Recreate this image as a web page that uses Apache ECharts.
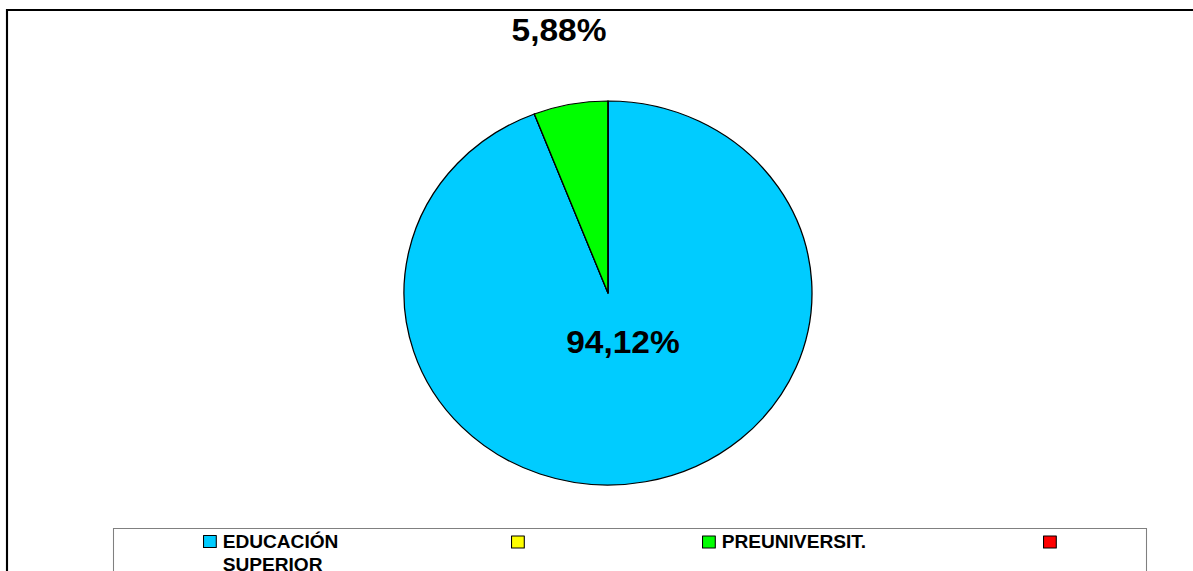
<!DOCTYPE html>
<html>
<head>
<meta charset="utf-8">
<script src="https://cdn.jsdelivr.net/npm/echarts@6/dist/echarts.min.js"></script>
<style>
html,body{margin:0;padding:0;background:#fff;overflow:hidden;}
#wrap{width:1193px;height:571px;overflow:hidden;}
#chart{width:1123px;height:571px;transform:scaleX(1.0625);transform-origin:0 0;}
</style>
</head>
<body>
<div id="wrap"><div id="chart"></div></div>
<script>
// Data
const categories = ['EDUCACIÓN SUPERIOR', ' ', 'PREUNIVERSIT.', '  '];
const values = [94.12, 0, 5.88, 0];
const colors = ['#00CCFF', '#FFFF00', '#00FF00', '#FF0000'];

// Excel-style chart is stretched horizontally (elliptical pie); draw in a narrower box and scale X
const SX = 1.0625;
const FONT = '"Liberation Sans", Arial, sans-serif';
const chart = echarts.init(document.getElementById('chart'), null, {renderer: 'svg'});

const legendLefts = [203 / SX, 511 / SX, 702 / SX, 1043 / SX];
const legends = categories.map((c, i) => ({
  data: [c],
  left: legendLefts[i],
  top: i === 0 ? 507 : 530.5,
  orient: 'horizontal',
  icon: 'rect',
  itemWidth: 12,
  itemHeight: 12,
  itemGap: 0,
  padding: 0,
  selectedMode: false,
  itemStyle: {borderColor: '#000', borderWidth: 1},
  formatter: name => i === 0 ? '\n' + name.replace(' ', '\n') : name,
  textStyle: {fontFamily: FONT, fontWeight: 'bold', fontSize: 18, color: '#000', lineHeight: 23, padding: [0, 0, 0, 1]}
}));

const labelPos = [[623 / SX, 342], null, [559 / SX, 30], null];

chart.setOption({
  animation: false,
  backgroundColor: '#fff',
  graphic: [
    {type: 'rect', shape: {x: 7 / SX, y: 10, width: 1400, height: 800}, style: {fill: 'none', stroke: '#000', lineWidth: 2}, silent: true},
    {type: 'rect', shape: {x: 113.5 / SX, y: 528.5, width: 1033 / SX, height: 100}, style: {fill: '#fff', stroke: '#808080', lineWidth: 1}, silent: true, z: 0}
  ],
  legend: legends,
  series: [{
    type: 'pie',
    center: [608 / SX, 293],
    radius: 192,
    startAngle: 90,
    clockwise: true,
    avoidLabelOverlap: false,
    minShowLabelAngle: 0,
    stillShowZeroSum: true,
    itemStyle: {borderColor: '#000', borderWidth: 1.2},
    emphasis: {disabled: true},
    labelLine: {show: false},
    label: {
      show: true,
      position: 'inside',
      fontFamily: FONT, fontWeight: 'bold', fontSize: 31.5, color: '#000',
      formatter: p => p.value.toFixed(2).replace('.', ',') + '%'
    },
    labelLayout: p => {
      const pos = labelPos[p.dataIndex];
      if (!pos) return {};
      return {x: pos[0], y: pos[1], align: 'center', verticalAlign: 'middle'};
    },
    data: categories.map((c, i) => ({
      name: c,
      value: values[i],
      itemStyle: {color: colors[i]},
      label: {show: values[i] > 0}
    }))
  }]
});
</script>
</body>
</html>
